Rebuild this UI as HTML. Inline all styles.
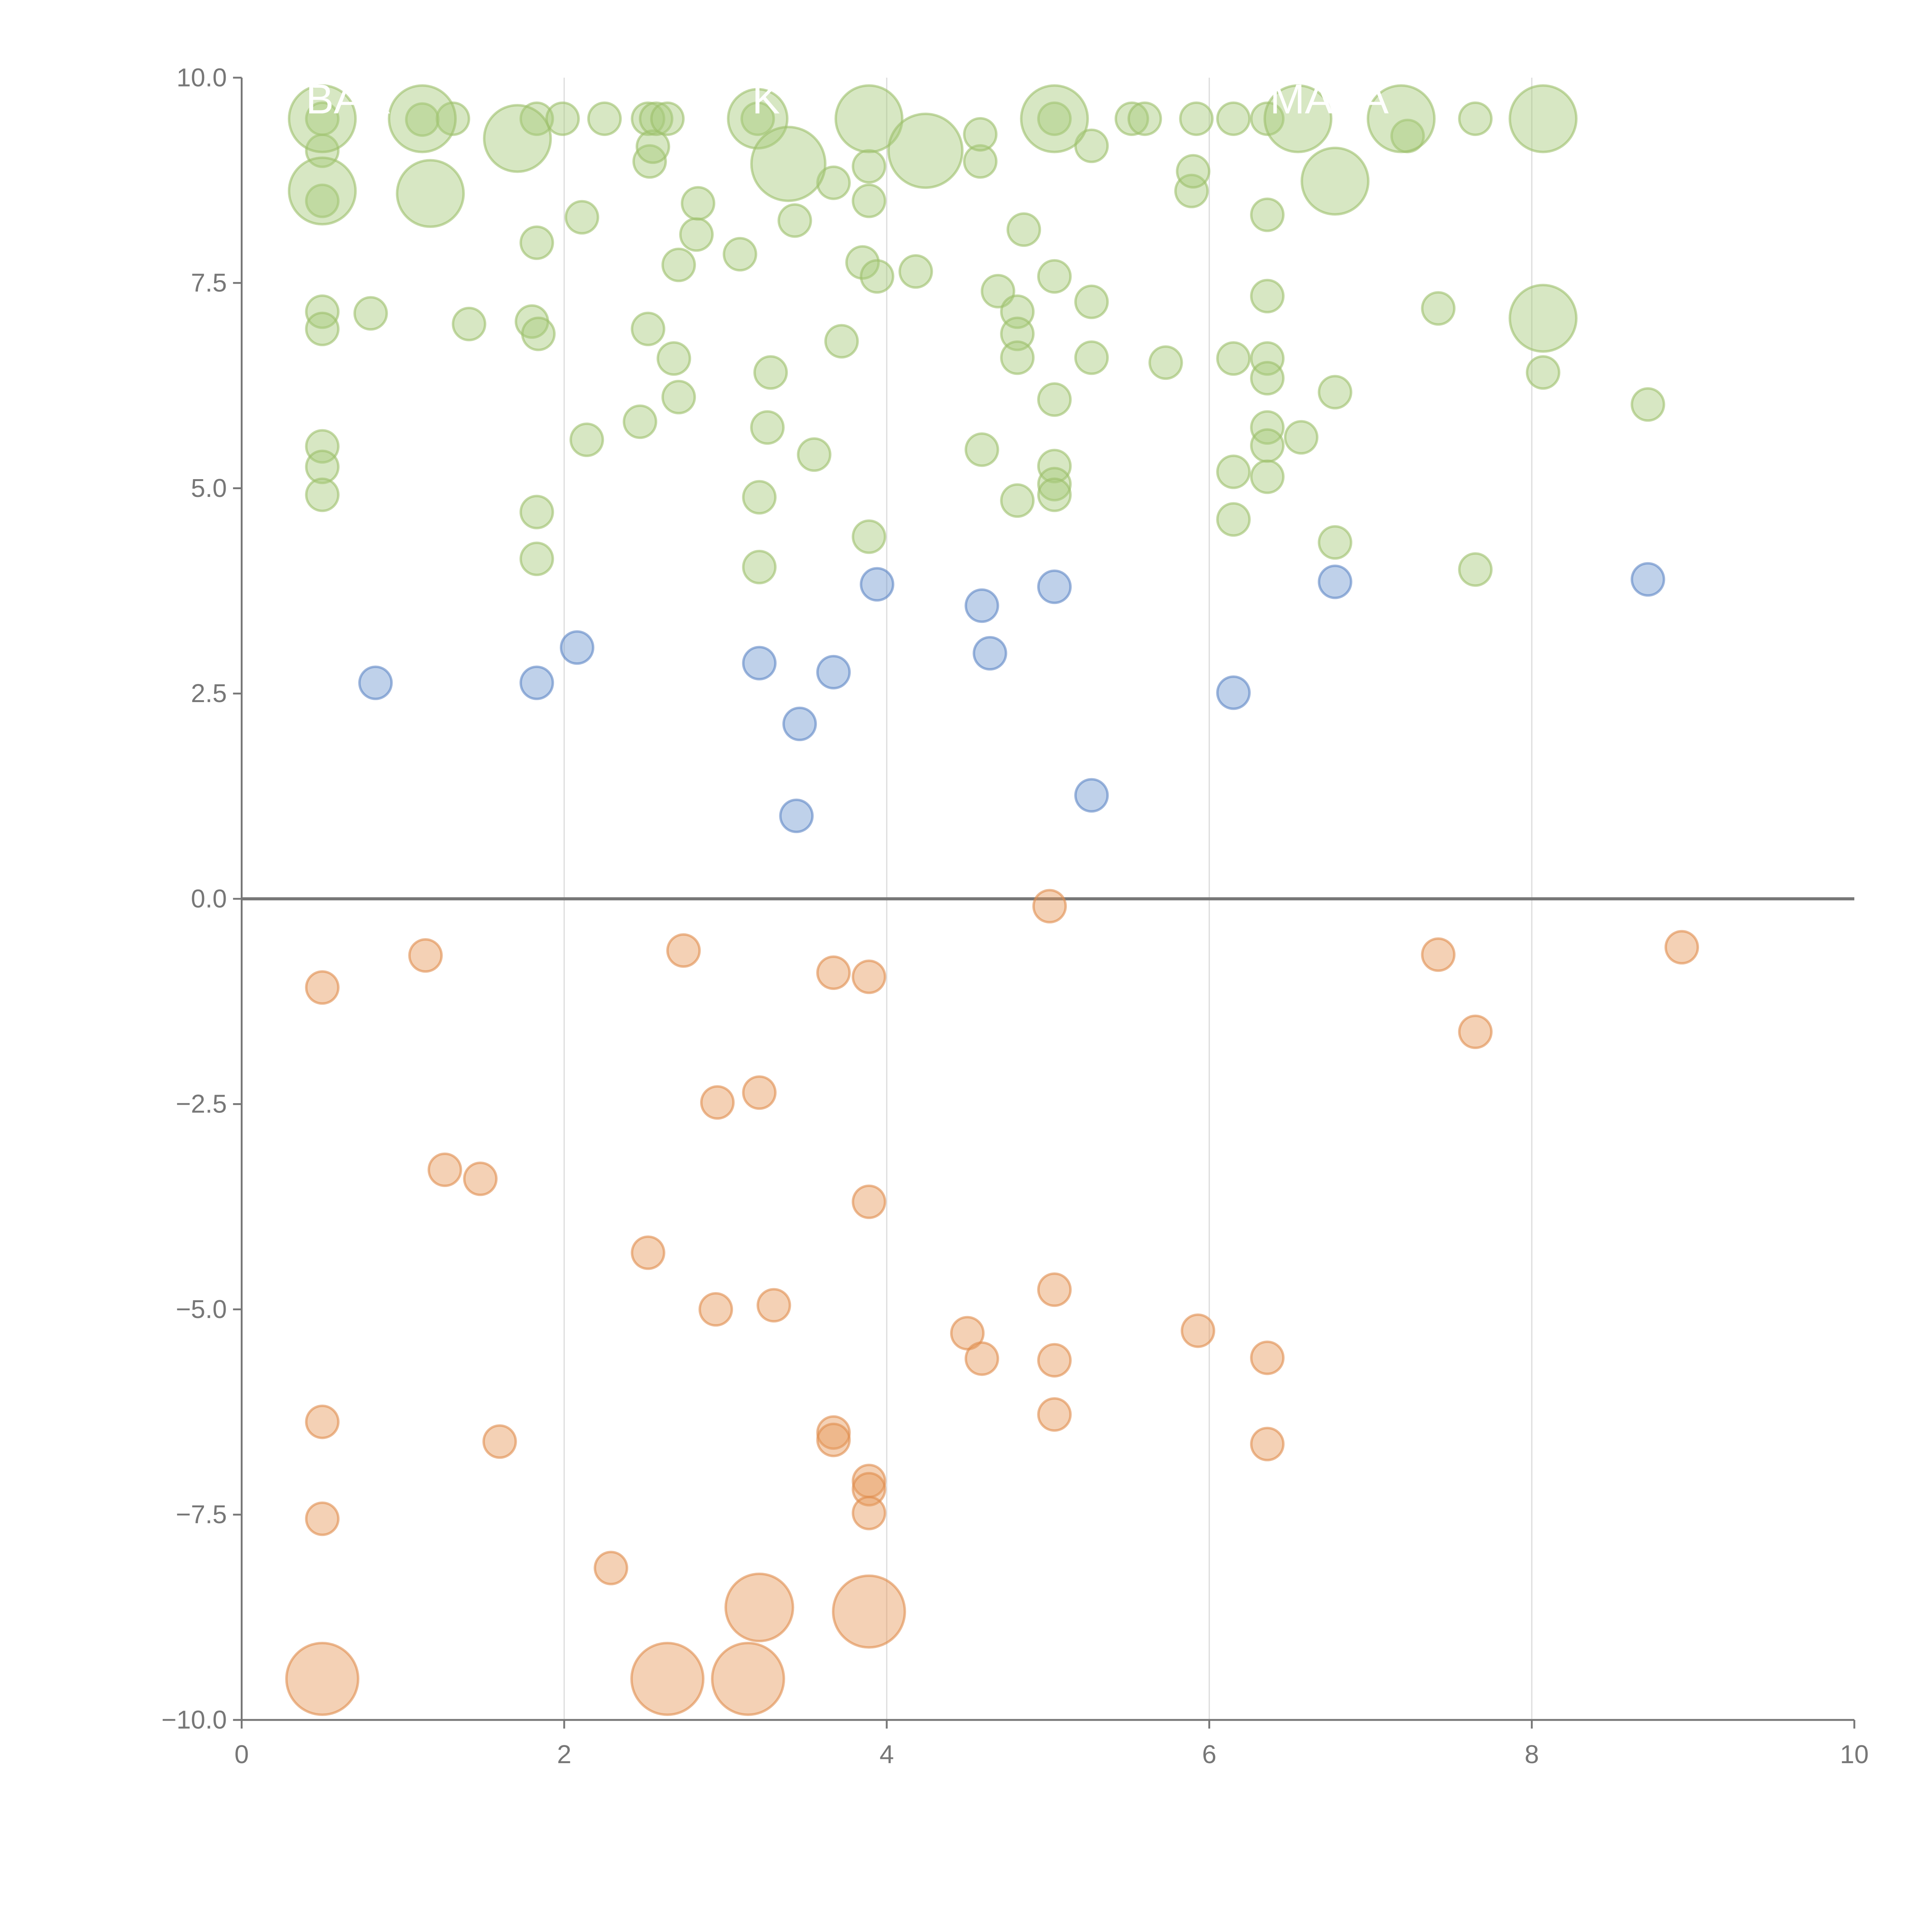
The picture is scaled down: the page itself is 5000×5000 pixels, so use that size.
<!DOCTYPE html>
<html><head><meta charset="utf-8"><style>html,body{margin:0;padding:0;background:#fff}svg{display:block}</style></head>
<body>
<svg id="chart" width="5000" height="5000" viewBox="0 0 1567 1567" xmlns="http://www.w3.org/2000/svg" font-family="'Liberation Sans', sans-serif">
<g id="grid"></g>
<g id="marks"></g>
<g id="axes"></g>
<g id="labels" fill="#fff" font-size="34">
<text x="248" y="92">BAR</text>
<text x="610" y="92">K</text>
<text x="1030" y="92">MAKA</text>
</g>
</svg>
<script>
const greenX=[0.5,0.5,0.5,0.5,0.5,0.5,0.5,0.5,0.8,1.12,1.31,1.41,1.8,1.84,1.83,1.83,1.83,1.83,1.99,2.11,2.14,2.25,2.47,2.52,2.53,2.55,2.52,2.57,2.64,2.68,2.71,2.71,2.82,2.83,3.09,3.2,3.21,3.21,3.26,3.28,3.43,3.55,3.67,3.72,3.85,3.89,3.89,3.89,3.94,4.18,4.58,4.58,4.59,4.69,4.81,4.81,4.81,4.81,4.85,5.04,5.04,5.04,5.04,5.04,5.04,5.27,5.27,5.27,5.52,5.6,5.73,5.89,5.9,5.92,6.15,6.15,6.15,6.15,6.36,6.36,6.36,6.36,6.36,6.36,6.36,6.36,6.57,6.78,6.78,7.23,7.42,7.65,7.65,8.07,8.72,
0.5,0.5,1.12,1.17,1.71,3.2,3.39,3.89,4.24,5.04,6.55,6.78,7.19,8.07,8.07];
const greenY=[9.5,9.11,8.5,7.15,6.94,5.51,5.26,4.92,7.13,9.49,9.5,7.0,7.03,6.88,7.99,4.71,4.14,9.5,9.5,8.3,5.59,9.5,5.81,9.5,8.98,9.16,6.94,9.5,9.5,6.58,6.11,7.72,8.09,8.47,7.85,9.5,4.89,4.04,5.74,6.41,8.26,5.41,8.72,6.79,7.75,8.92,8.5,4.41,7.58,7.64,8.98,9.31,5.47,7.4,7.15,6.88,6.59,4.85,8.15,9.5,7.58,6.08,5.27,5.05,4.92,9.17,7.27,6.59,9.5,9.5,6.53,8.62,8.86,9.5,9.5,6.58,5.2,4.62,9.5,8.33,7.34,6.58,6.34,5.74,5.52,5.14,5.62,6.17,4.34,9.29,7.19,9.5,4.01,6.41,6.02,
9.5,8.62,9.5,8.59,9.26,9.5,8.95,9.5,9.11,9.5,9.5,8.74,9.5,9.5,7.07];
const greenS=[1,1,1,1,1,1,1,1,1,1,1,1,1,1,1,1,1,1,1,1,1,1,1,1,1,1,1,1,1,1,1,1,1,1,1,1,1,1,1,1,1,1,1,1,1,1,1,1,1,1,1,1,1,1,1,1,1,1,1,1,1,1,1,1,1,1,1,1,1,1,1,1,1,1,1,1,1,1,1,1,1,1,1,1,1,1,1,1,1,1,1,1,1,1,1,
4.3,4.3,4.3,4.3,4.3,3.4,5.3,4.3,5.3,4.3,4.3,4.3,4.3,4.3,4.3];
const blueX=[0.83,1.83,2.08,3.21,3.46,3.44,3.67,3.94,4.59,4.64,5.04,5.27,6.15,6.78,8.72];
const blueY=[2.63,2.63,3.06,2.87,2.13,1.01,2.76,3.83,3.57,2.99,3.8,1.26,2.51,3.86,3.89];
const blueS=[1,1,1,1,1,1,1,1,1,1,1,1,1,1,1];
const orangeX=[0.5,1.14,2.74,3.67,3.89,5.01,7.42,8.93,7.65,2.95,3.21,1.26,1.48,3.89,2.52,2.94,3.3,5.04,4.5,4.59,5.04,5.93,6.36,0.5,1.6,3.67,3.67,3.89,3.89,3.89,5.04,6.36,0.5,2.29,3.21,3.89,0.5,2.64,3.14];
const orangeY=[-1.08,-0.69,-0.63,-0.9,-0.95,-0.09,-0.68,-0.59,-1.62,-2.48,-2.36,-3.3,-3.41,-3.69,-4.31,-5.0,-4.95,-4.76,-5.29,-5.6,-5.62,-5.26,-5.59,-6.37,-6.61,-6.5,-6.59,-7.09,-7.19,-7.48,-6.28,-6.64,-7.55,-8.15,-8.63,-8.68,-9.5,-9.5,-9.5];
const orangeS=[1,1,1,1,1,1,1,1,1,1,1,1,1,1,1,1,1,1,1,1,1,1,1,1,1,1,1,1,1,1,1,1,1,1,4.4,5.0,5.0,5.0,5.0];
const xTicks=[0,2,4,6,8,10];
const yTicks=[10,7.5,5,2.5,0,-2.5,-5,-7.5,-10];

const NS="http://www.w3.org/2000/svg";
const X0=196,X1=1504,Y0=1395,Y1=63;
const xs=v=>X0+(v-0)/(10-0)*(X1-X0);
const ys=v=>Y0-(v+10)/20*(Y0-Y1);
const rs=s=>13*Math.sqrt(s);
function mk(tag,attrs,parent){const e=document.createElementNS(NS,tag);for(const k in attrs)e.setAttribute(k,attrs[k]);parent.appendChild(e);return e;}
const grid=document.getElementById('grid'),marks=document.getElementById('marks'),axes=document.getElementById('axes');
xTicks.forEach(t=>{if(t>0&&t<10){const l=mk('line',{x1:xs(t),x2:xs(t),y1:Y1,y2:Y0,stroke:'#dddddd','stroke-width':1},grid);

}});
const zl=mk('line',{x1:X0,x2:X1,y1:ys(0),y2:ys(0),stroke:'#777','stroke-width':2.5},grid);


function series(X,Y,S,fill,stroke,name){for(let i=0;i<X.length;i++){const c=mk('circle',{cx:xs(X[i]),cy:ys(Y[i]),r:rs(S[i]),fill:fill,stroke:stroke,'stroke-width':2,'fill-opacity':0.45,'stroke-opacity':0.6},marks);

}}
series(greenX,greenY,greenS,'#a6c97a','#9cc06a','green-bubble');
series(blueX,blueY,blueS,'#7298d0','#5d86c4','blue-bubble');
series(orangeX,orangeY,orangeS,'#e69a5c','#e08c4c','orange-bubble');
const ya=mk('line',{x1:X0,x2:X0,y1:Y1,y2:Y0,stroke:'#777','stroke-width':1.5},axes);


const xa=mk('line',{x1:X0,x2:X1,y1:Y0,y2:Y0,stroke:'#777','stroke-width':1.5},axes);


yTicks.forEach(t=>{mk('line',{x1:X0-7,x2:X0,y1:ys(t),y2:ys(t),stroke:'#777','stroke-width':1.5},axes);
const tx=mk('text',{x:X0-12,y:ys(t)+7,'text-anchor':'end','font-size':21,fill:'#777'},axes);
tx.textContent=(t<0?'\u2212':'')+Math.abs(t).toFixed(1);

});
xTicks.forEach(t=>{mk('line',{x1:xs(t),x2:xs(t),y1:Y0,y2:Y0+7,stroke:'#777','stroke-width':1.5},axes);
const tx=mk('text',{x:xs(t),y:Y0+35,'text-anchor':'middle','font-size':21,fill:'#777'},axes);
tx.textContent=String(t);

});
</script>
</body></html>
